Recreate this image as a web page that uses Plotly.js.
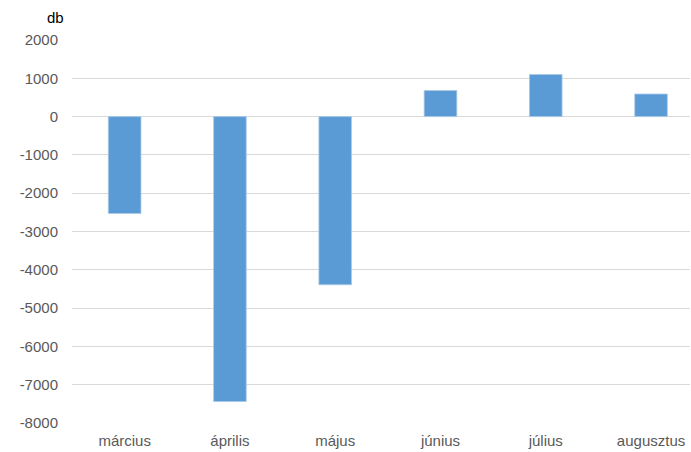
<!DOCTYPE html>
<html>
<head>
<meta charset="utf-8">
<script src="https://cdn.plot.ly/plotly-3.0.1.min.js"></script>
<style>
  html, body { margin: 0; padding: 0; background: #fff; }
  #chart { width: 691px; height: 452px; }
</style>
</head>
<body>
<div id="chart"></div>
<script>
// Monthly change (db)
const months = ['március', 'április', 'május', 'június', 'július', 'augusztus'];
const values = [-2530, -7440, -4390, 680, 1100, 590];
const yTicks = [-8000, -7000, -6000, -5000, -4000, -3000, -2000, -1000, 0, 1000, 2000];

const trace = {
  type: 'bar',
  x: months,
  y: values,
  marker: { color: '#5b9bd5', line: { color: '#a9c9ea', width: 0.8 } },
  hoverinfo: 'x+y'
};

const layout = {
  width: 691,
  height: 452,
  margin: { l: 72, r: 1, t: 40, b: 29 },
  paper_bgcolor: '#ffffff',
  plot_bgcolor: '#ffffff',
  bargap: 0.69,
  showlegend: false,
  font: { family: 'Liberation Sans, Arial, sans-serif', size: 15, color: '#595959' },
  xaxis: {
    type: 'category',
    range: [-0.5, 5.37],
    showgrid: false,
    showline: false,
    zeroline: false,
    ticks: '',
    ticklabelstandoff: 7,
    tickfont: { size: 15, color: '#595959' }
  },
  yaxis: {
    range: [-8000, 2000],
    tickvals: yTicks,
    ticktext: yTicks.map(String),
    showgrid: true,
    gridcolor: '#d9d9d9',
    gridwidth: 1,
    zeroline: false,
    showline: false,
    ticks: '',
    ticklabelstandoff: 13,
    tickfont: { size: 15, color: '#595959' }
  },
  annotations: [{
    text: 'db',
    xref: 'paper', yref: 'paper',
    x: -0.0097, y: 1.06,
    xanchor: 'right', yanchor: 'middle',
    showarrow: false,
    font: { size: 15, color: '#000000' }
  }]
};

Plotly.newPlot('chart', [trace], layout, { displayModeBar: false, staticPlot: true });
</script>
</body>
</html>
